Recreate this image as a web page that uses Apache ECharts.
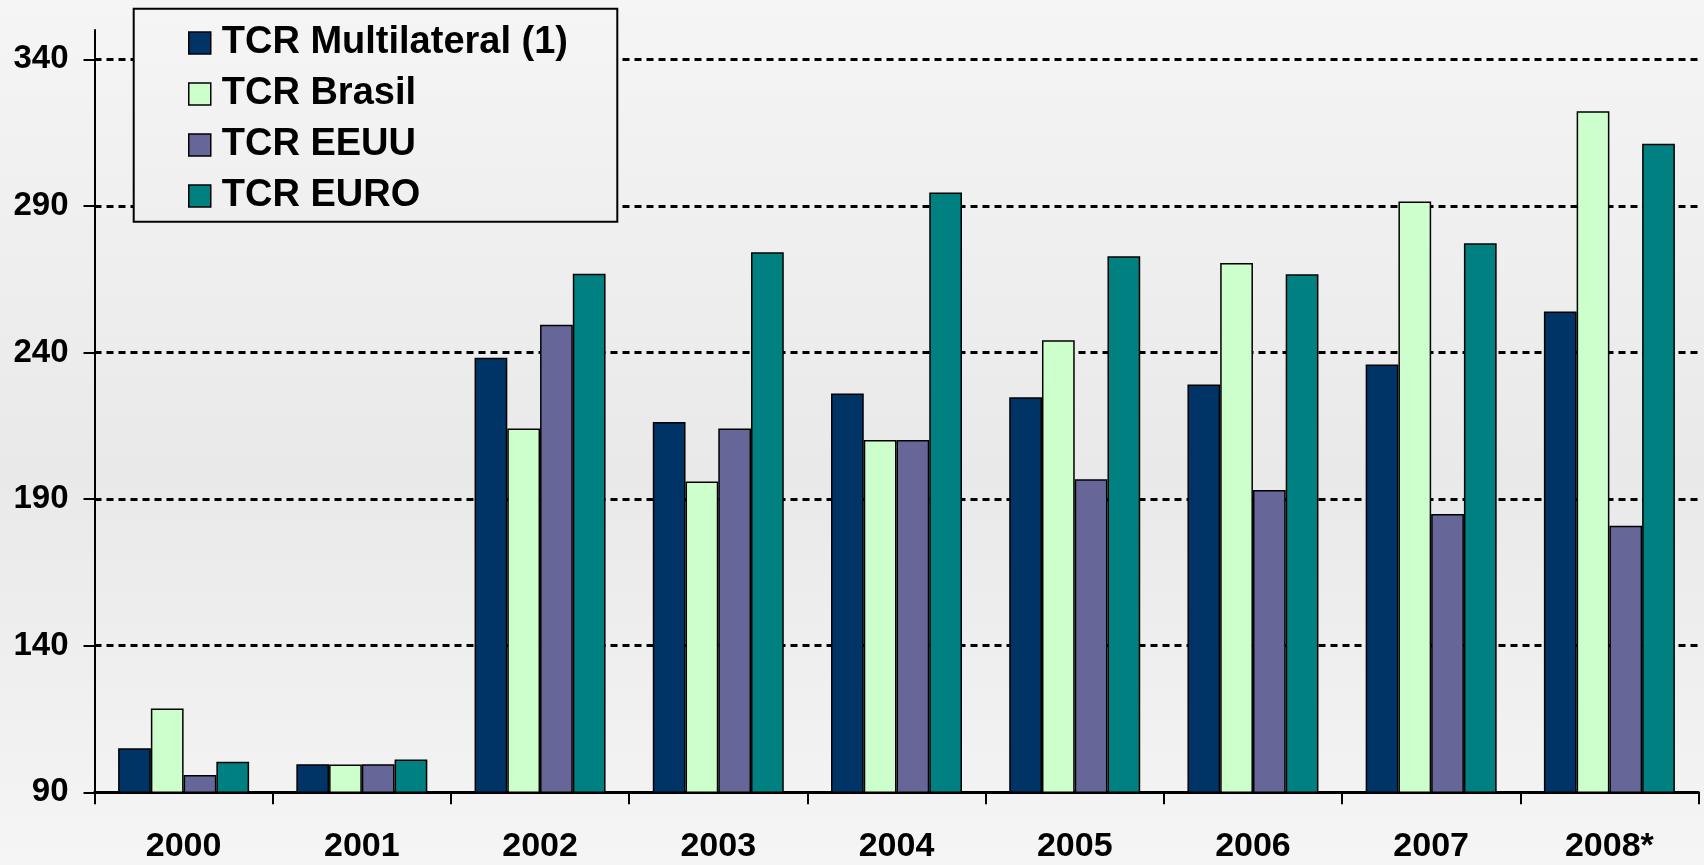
<!DOCTYPE html>
<html>
<head>
<meta charset="utf-8">
<script src="https://cdn.jsdelivr.net/npm/echarts@6/dist/echarts.min.js"></script>
<style>
  html, body { margin: 0; padding: 0; }
  #chart { width: 1704px; height: 865px; }
</style>
</head>
<body>
<div id="chart"></div>
<script>
// Tipo de cambio real por año
const categories = ['2000', '2001', '2002', '2003', '2004', '2005', '2006', '2007', '2008*'];
const seriesNames = ['TCR Multilateral (1)', 'TCR Brasil', 'TCR EEUU', 'TCR EURO'];
const tcrMultilateral = [105.0, 99.6, 238.2, 216.3, 226.0, 224.7, 229.1, 235.9, 254.0];
const tcrBrasil = [118.6, 99.5, 214.1, 196.0, 210.2, 244.2, 270.5, 291.5, 322.3];
const tcrEEUU = [95.9, 99.6, 249.5, 214.1, 210.2, 196.8, 193.1, 184.9, 180.9];
const tcrEuro = [100.4, 101.2, 266.9, 274.2, 294.6, 272.8, 266.7, 277.3, 311.2];
const yTicks = [90, 140, 190, 240, 290, 340];

const colors = ['#003366', '#CCFFCC', '#666699', '#008080'];
const FONT = "'Liberation Sans', Arial, sans-serif";

const chart = echarts.init(document.getElementById('chart'), null, { renderer: 'canvas' });

const values = [tcrMultilateral, tcrBrasil, tcrEEUU, tcrEuro];

// legend frame
const legendBox = { x: 133.7, y: 8.7, width: 483.6, height: 213 };

chart.setOption({
  backgroundColor: {
    type: 'linear', x: 0, y: 0, x2: 0, y2: 1,
    colorStops: [
      { offset: 0, color: '#f5f5f5' },
      { offset: 0.55, color: '#e9e9e9' },
      { offset: 1, color: '#f5f5f5' }
    ]
  },
  animation: false,
  color: colors,
  textStyle: { fontFamily: FONT },
  grid: {
    left: 94.5, right: 5.5, top: 30, bottom: 72.7,
    containLabel: false,
    outerBoundsMode: 'none'
  },
  legend: {
    orient: 'vertical',
    left: 188,
    top: 24,
    padding: 0,
    z: 6,
    itemWidth: 22,
    itemHeight: 22,
    itemGap: 13,
    icon: 'rect',
    itemStyle: { borderColor: '#000', borderWidth: 1.5 },
    textStyle: {
      fontFamily: FONT, fontWeight: 'bold', fontSize: 38, color: '#000',
      lineHeight: 38, padding: [0, 0, 0, 6]
    },
    data: seriesNames
  },
  graphic: [{
    type: 'rect',
    shape: legendBox,
    style: {
      fill: {
        type: 'linear', x: 0, y: 0, x2: 0, y2: 1,
        colorStops: [
          { offset: 0, color: '#f5f5f5' },
          { offset: 1, color: '#efefef' }
        ]
      },
      stroke: '#000', lineWidth: 2
    },
    silent: true,
    z: 5
  }],
  xAxis: {
    type: 'category',
    data: categories,
    boundaryGap: true,
    axisLine: { show: true, lineStyle: { color: '#000', width: 3 } },
    axisTick: { show: true, inside: false, length: 12, lineStyle: { color: '#000', width: 2 } },
    axisLabel: {
      margin: 37, color: '#000', fontFamily: FONT, fontWeight: 'bold', fontSize: 34,
      interval: 0
    },
    splitLine: { show: false }
  },
  yAxis: {
    type: 'value',
    min: 90,
    max: 350,
    interval: 50,
    axisLine: { show: true, lineStyle: { color: '#000', width: 2 } },
    axisTick: { show: true, inside: false, length: 11, lineStyle: { color: '#000', width: 2 }, customValues: yTicks },
    axisLabel: {
      margin: 26, color: '#000', fontFamily: FONT, fontWeight: 'bold', fontSize: 33,
      customValues: yTicks
    },
    splitLine: {
      show: true, showMinLine: false,
      lineStyle: { color: '#000', width: 3, type: [7, 5] }
    }
  },
  series: seriesNames.map((name, i) => ({
    name: name,
    type: 'bar',
    data: values[i],
    barGap: '0%',
    barCategoryGap: '26.5%',
    itemStyle: { color: colors[i], borderColor: '#000', borderWidth: 1.5 }
  }))
});
</script>
</body>
</html>
